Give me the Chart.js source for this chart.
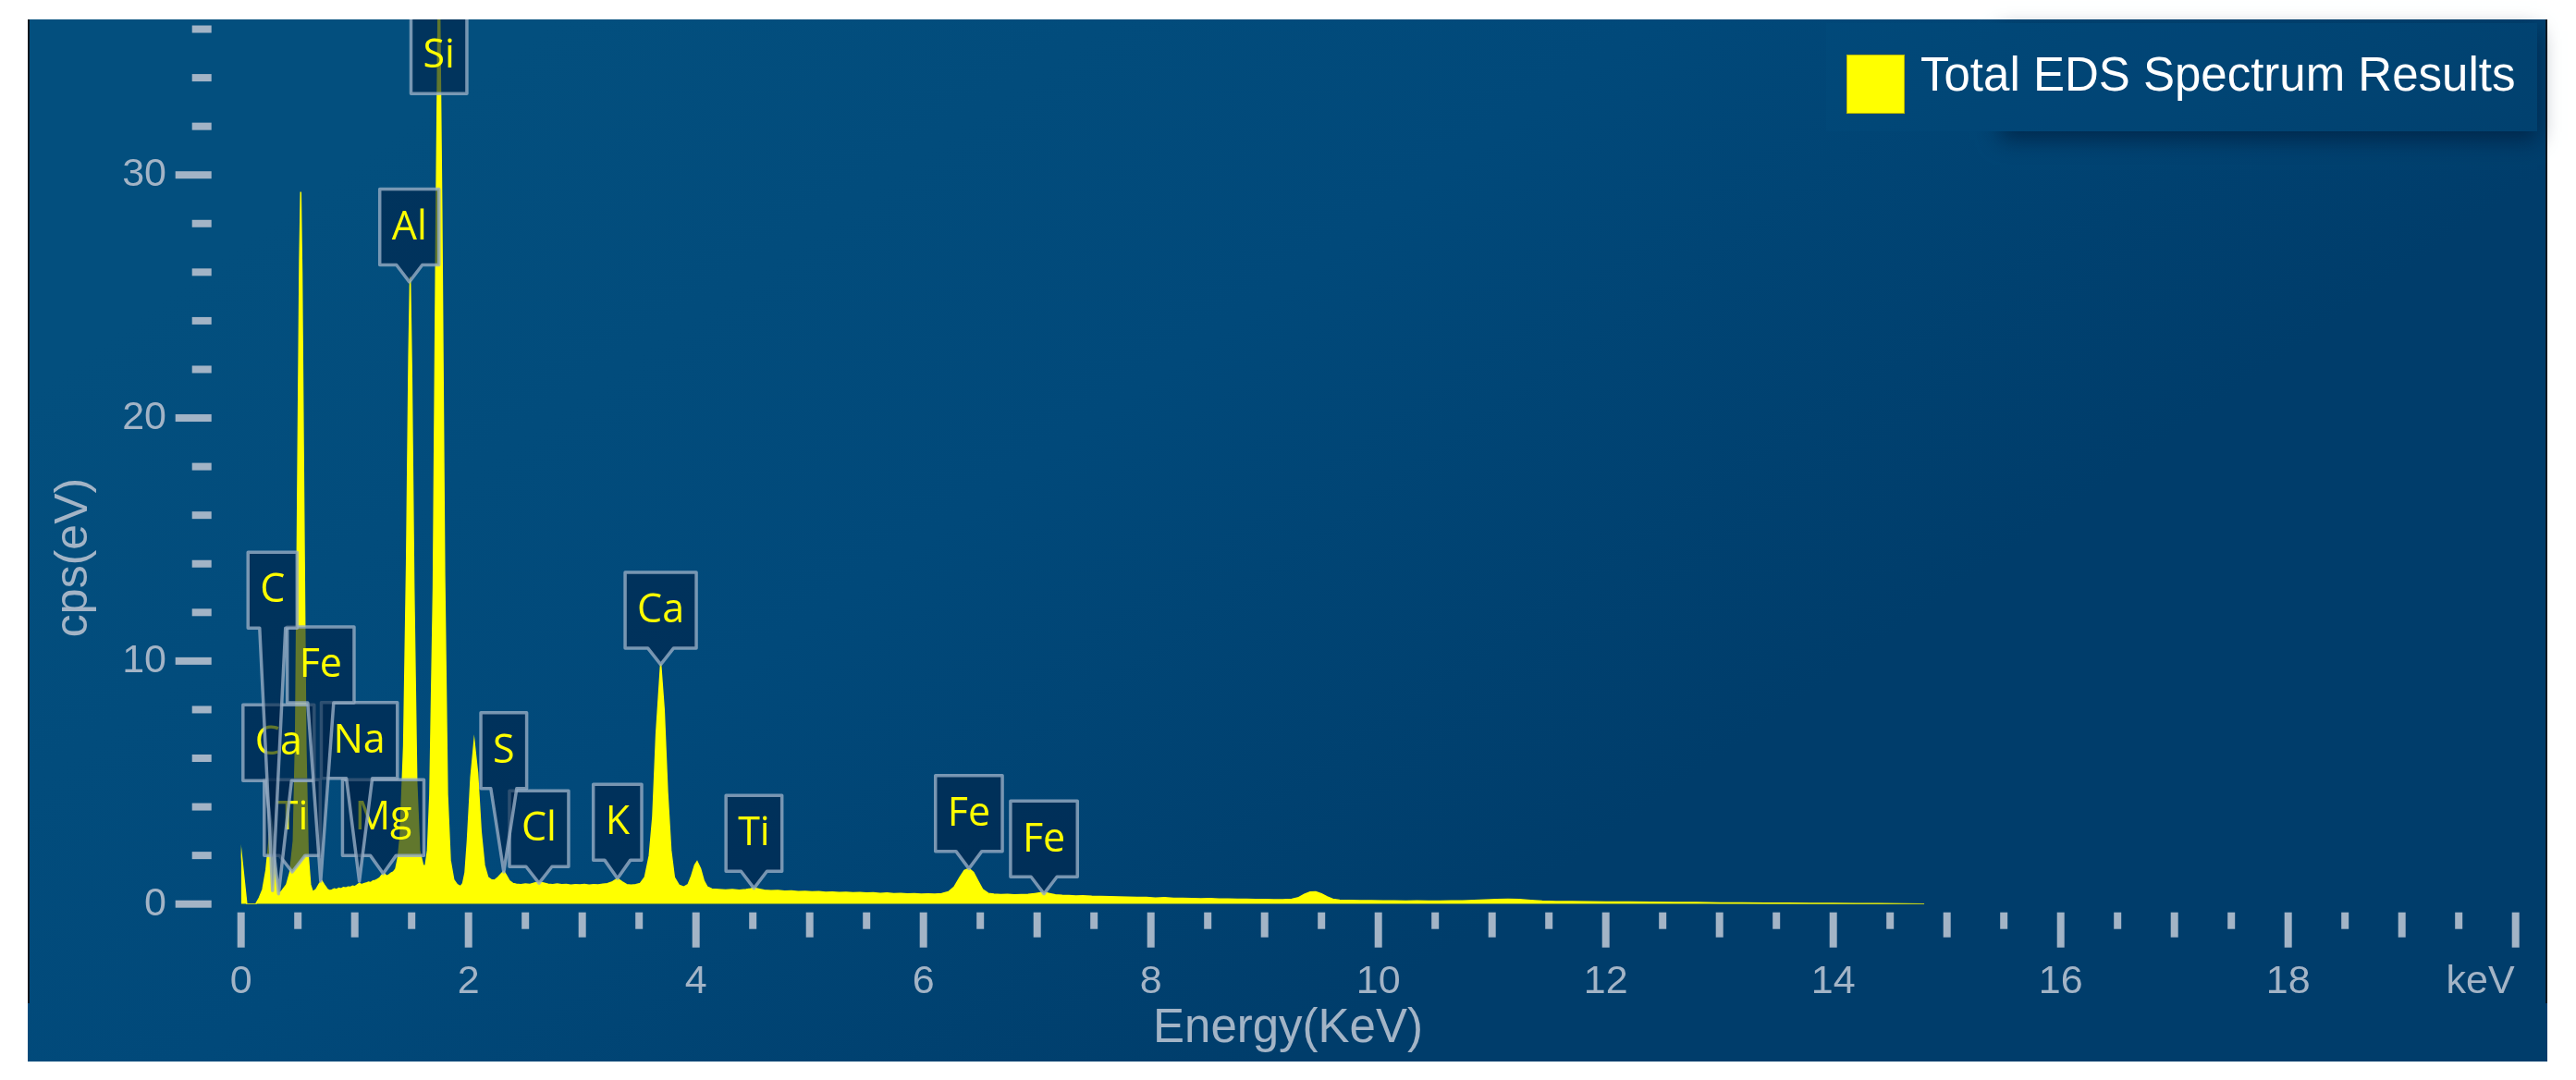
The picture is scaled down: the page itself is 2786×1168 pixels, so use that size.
<!DOCTYPE html>
<html>
<head>
<meta charset="utf-8">
<script src="https://cdn.jsdelivr.net/npm/chart.js@4.4.1/dist/chart.umd.min.js"></script>
<style>
  html, body { margin: 0; padding: 0; background: #ffffff; }
  canvas { display: block; }
</style>
</head>
<body>
<canvas id="edsChart" width="2786" height="1168"></canvas>
<script>
// spectrum: energy (keV) and cps(eV)
const energies = [
  -0.05, 0.00, 0.05, 0.13, 0.16, 0.19, 0.22, 0.25, 0.27, 0.29,
  0.31, 0.335, 0.36, 0.40, 0.43, 0.46, 0.48, 0.50, 0.515, 0.525,
  0.535, 0.55, 0.57, 0.59, 0.61, 0.63, 0.66, 0.69, 0.71, 0.73,
  0.76, 0.78, 0.80, 0.82, 0.84, 0.86, 0.88, 0.90, 0.92, 0.94,
  0.96, 0.98, 1.00, 1.02, 1.04, 1.06, 1.08, 1.10, 1.12, 1.14,
  1.16, 1.18, 1.20, 1.22, 1.24, 1.26, 1.28, 1.30, 1.32, 1.34,
  1.36, 1.38, 1.40, 1.43, 1.455, 1.475, 1.487, 1.50, 1.52, 1.545,
  1.57, 1.60, 1.62, 1.64, 1.66, 1.69, 1.715, 1.74, 1.765, 1.79,
  1.815, 1.84, 1.87, 1.90, 1.93, 1.95, 1.97, 1.99, 2.02, 2.05,
  2.08, 2.11, 2.14, 2.17, 2.20, 2.23, 2.26, 2.29, 2.31, 2.33,
  2.36, 2.39, 2.42, 2.46, 2.50, 2.54, 2.58, 2.62, 2.66, 2.70,
  2.74, 2.78, 2.82, 2.86, 2.90, 2.94, 2.98, 3.02, 3.06, 3.10,
  3.14, 3.18, 3.22, 3.26, 3.31, 3.35, 3.39, 3.43, 3.47, 3.51,
  3.55, 3.59, 3.62, 3.65, 3.69, 3.72, 3.75, 3.78, 3.81, 3.85,
  3.89, 3.93, 3.96, 3.99, 4.01, 4.04, 4.07, 4.10, 4.14, 4.20,
  4.26, 4.32, 4.38, 4.44, 4.48, 4.51, 4.55, 4.60, 4.66, 4.72,
  4.78, 4.84, 4.90, 4.96, 5.02, 5.08, 5.14, 5.20, 5.26, 5.32,
  5.38, 5.44, 5.50, 5.56, 5.62, 5.68, 5.74, 5.80, 5.86, 5.92,
  5.98, 6.04, 6.10, 6.16, 6.22, 6.27, 6.32, 6.36, 6.40, 6.44,
  6.48, 6.52, 6.57, 6.62, 6.68, 6.74, 6.80, 6.86, 6.92, 6.98,
  7.03, 7.07, 7.11, 7.16, 7.22, 7.28, 7.34, 7.40, 7.48, 7.56,
  7.64, 7.72, 7.80, 7.88, 7.96, 8.04, 8.12, 8.20, 8.28, 8.36,
  8.44, 8.52, 8.60, 8.68, 8.76, 8.84, 8.92, 9.00, 9.08, 9.16,
  9.24, 9.30, 9.35, 9.40, 9.45, 9.50, 9.55, 9.60, 9.66, 9.74,
  9.84, 9.94, 10.04, 10.14, 10.24, 10.34, 10.44, 10.54, 10.64, 10.74,
  10.84, 10.94, 11.04, 11.14, 11.24, 11.34, 11.44, 11.56, 11.70, 11.85,
  12.0, 12.2, 12.4, 12.6, 12.8, 13.0, 13.2, 13.4, 13.6, 13.8,
  14.0, 14.2, 14.4, 14.6, 14.8
];
const counts = [
  0, 2.2, 0, 0, 0.25, 0.6, 1.4, 2.8, 3.4, 2.5,
  1.1, 0.42, 0.55, 0.8, 1.3, 2.6, 7.0, 18.5, 26.5, 29.3,
  26.0, 17.5, 6.5, 2.0, 0.8, 0.5, 0.6, 0.85, 0.95, 0.8,
  0.6, 0.55, 0.58, 0.62, 0.6, 0.65, 0.63, 0.68, 0.66, 0.7,
  0.69, 0.74, 0.72, 0.78, 0.85, 0.8, 0.84, 0.86, 0.9, 0.88,
  0.95, 0.97, 1.02, 1.08, 1.2, 1.25, 1.15, 1.2, 1.28, 1.32,
  1.45, 1.9, 2.8, 6.5, 14.0, 22.5, 25.8, 22.0, 13.0, 5.0,
  2.2, 1.6, 1.55, 2.2, 4.5, 13.0, 28.0, 40.0, 28.5, 13.5,
  4.5, 1.8, 1.0, 0.8, 0.72, 0.85, 1.3, 2.6, 5.2, 6.7,
  5.4, 3.0, 1.6, 1.1, 1.0, 0.98, 1.1, 1.25, 1.35, 1.2,
  0.95, 0.85, 0.82, 0.8, 0.83, 0.81, 0.86, 0.9, 0.86, 0.82,
  0.8, 0.83, 0.8, 0.81, 0.78, 0.8, 0.79, 0.81, 0.78, 0.8,
  0.79, 0.82, 0.84, 0.9, 1.05, 0.92, 0.8, 0.78, 0.8, 0.85,
  1.1, 2.0, 3.6, 7.0, 9.9, 8.0, 4.6, 2.2, 1.1, 0.78,
  0.7, 0.8, 1.15, 1.6, 1.75, 1.45, 0.95, 0.7, 0.62, 0.6,
  0.58, 0.6, 0.57, 0.6, 0.63, 0.66, 0.62, 0.57, 0.55, 0.56,
  0.53, 0.54, 0.51, 0.52, 0.5, 0.51, 0.48, 0.49, 0.47, 0.48,
  0.46, 0.47, 0.45, 0.46, 0.44, 0.45, 0.43, 0.44, 0.42, 0.43,
  0.41, 0.42, 0.41, 0.43, 0.5, 0.7, 1.1, 1.38, 1.46, 1.3,
  0.95, 0.6, 0.44, 0.41, 0.39, 0.4, 0.38, 0.39, 0.4, 0.43,
  0.46, 0.47, 0.43, 0.38, 0.36, 0.35, 0.33, 0.34, 0.32, 0.31,
  0.3, 0.29, 0.28, 0.27, 0.27, 0.25, 0.26, 0.24, 0.24, 0.23,
  0.22, 0.23, 0.21, 0.21, 0.2, 0.2, 0.19, 0.19, 0.18, 0.18,
  0.2, 0.27, 0.4, 0.49, 0.5, 0.42, 0.3, 0.2, 0.16, 0.15,
  0.14, 0.14, 0.13, 0.13, 0.12, 0.13, 0.12, 0.12, 0.13, 0.13,
  0.15, 0.17, 0.19, 0.2, 0.19, 0.15, 0.12, 0.1, 0.1, 0.09,
  0.08, 0.08, 0.07, 0.06, 0.06, 0.05, 0.05, 0.04, 0.04, 0.03,
  0.03, 0.02, 0.02, 0.01, 0
];

// element tags: name, energy (keV), value where the pointer lands (cps)
const tagNames = ['Ti', 'Mg', 'Fe', 'Cl', 'K', 'Ti', 'Fe', 'S', 'Ca', 'Na', 'Fe', 'Ca', 'C', 'Al', 'Si'];
const tagEnergies = [0.45, 1.25, 7.06, 2.62, 3.31, 4.51, 6.40, 2.31, 0.33, 1.04, 0.70, 3.69, 0.277, 1.48, 1.74];
const tagTips = [1.32, 1.25, 0.42, 0.86, 1.05, 0.65, 1.46, 1.32, 0.42, 0.94, 0.94, 9.86, 0.55, 25.6, 40];
// layout only: where each tag box sits (bottom edge, in cps)
const tagBoxBottoms = [2.0, 2.0, 1.12, 1.54, 1.81, 1.35, 2.17, 4.75, 5.08, 5.17, 8.28, 10.53, 11.36, 26.3, 33.35];

const xTickValues = [0, 2, 4, 6, 8, 10, 12, 14, 16, 18, 20];
const xTickLabels = ['0', '2', '4', '6', '8', '10', '12', '14', '16', '18', 'keV'];
const yTickValues = [0, 10, 20, 30];
const yTickLabels = ['0', '10', '20', '30'];

const seriesName = 'Total EDS Spectrum Results';
const axisGrey = '#a3b4c6';
const tickFont = { family: '"Liberation Sans", Arial, sans-serif', size: 43 };

function panelFill(ctx) {
  const g = ctx.createLinearGradient(600, 21, 1400, 1148);
  g.addColorStop(0, '#034f7e');
  g.addColorStop(0.5, '#01497a');
  g.addColorStop(1, '#003d6b');
  return g;
}

const panelPlugin = {
  id: 'panel',
  beforeDraw(chart) {
    const ctx = chart.ctx;
    ctx.save();
    ctx.fillStyle = panelFill(ctx);
    ctx.fillRect(30, 21, 2725, 1127);
    ctx.fillStyle = '#101820';
    ctx.fillRect(30, 21, 2, 1064);
    ctx.fillRect(2753, 21, 2, 1064);

    // legend backdrop: only its shadow shows below the right part
    ctx.save();
    ctx.shadowColor = 'rgba(0, 22, 50, 0.6)';
    ctx.shadowBlur = 22;
    ctx.shadowOffsetY = 9;
    ctx.fillStyle = '#024c7b';
    ctx.fillRect(2163, 25, 581, 117);
    ctx.restore();
    ctx.fillStyle = panelFill(ctx);
    ctx.fillRect(1975, 25, 769, 117);
    ctx.fillStyle = 'rgba(10, 90, 140, 0.12)';
    ctx.fillRect(1975, 25, 769, 117);
    ctx.restore();
  }
};

function drawTag(ctx, name, cx, bottom, tipX, tipY) {
  ctx.font = '43px "Open Sans", "Noto Sans", sans-serif';
  const w = ctx.measureText(name).width + 26;
  const h = 82;
  const left = cx - w / 2, right = cx + w / 2, top = bottom - h;
  ctx.beginPath();
  ctx.moveTo(left, top);
  ctx.lineTo(right, top);
  ctx.lineTo(right, bottom);
  if (tipY > bottom + 2) {
    ctx.lineTo(cx + 14, bottom);
    ctx.lineTo(tipX, tipY);
    ctx.lineTo(cx - 14, bottom);
  }
  ctx.lineTo(left, bottom);
  ctx.closePath();
  ctx.fillStyle = 'rgba(0, 36, 72, 0.62)';
  ctx.fill();
  ctx.lineWidth = 3.5;
  ctx.lineJoin = 'round';
  ctx.strokeStyle = 'rgba(150, 172, 196, 0.8)';
  ctx.stroke();
  ctx.fillStyle = '#ffff00';
  ctx.textAlign = 'center';
  ctx.textBaseline = 'middle';
  ctx.fillText(name, cx, top + h / 2 + 1);
}

const marksPlugin = {
  id: 'marks',
  afterDatasetsDraw(chart) {
    const ctx = chart.ctx;
    const xs = chart.scales.x, ys = chart.scales.y;
    const area = chart.chartArea;

    // element tags, clipped to the plot top
    ctx.save();
    ctx.beginPath();
    ctx.rect(30, area.top, 2725, area.bottom - area.top);
    ctx.clip();
    tagNames.forEach((name, i) => {
      const cx = xs.getPixelForValue(tagEnergies[i]);
      drawTag(ctx, name, cx, ys.getPixelForValue(tagBoxBottoms[i]), cx, ys.getPixelForValue(tagTips[i]));
    });
    ctx.restore();
  },
  afterDraw(chart) {
    const ctx = chart.ctx;
    const xs = chart.scales.x, ys = chart.scales.y;
    const area = chart.chartArea;
    ctx.save();
    ctx.fillStyle = axisGrey;

    // x tick marks: long every 2 keV, medium every 1, short every 0.5
    for (let k = 0; k <= 40; k++) {
      const px = xs.getPixelForValue(k * 0.5);
      const len = k % 4 === 0 ? 38 : (k % 2 === 0 ? 27 : 18);
      ctx.fillRect(px - 4, area.bottom + 9, 8, len);
    }
    // y tick marks: long every 10, short every 2
    for (let v = 0; v <= 36; v += 2) {
      const py = ys.getPixelForValue(v);
      const len = v % 10 === 0 ? 39 : 21;
      ctx.fillRect(area.left - 32 - len, py - 4, len, 8);
    }

    // unit label at the last x tick sits flush left of it
    const last = xTickValues.length - 1;
    ctx.font = tickFont.size + 'px ' + tickFont.family;
    ctx.textAlign = 'right';
    ctx.textBaseline = 'middle';
    ctx.fillText(xTickLabels[last], xs.getPixelForValue(xTickValues[last]) - 1, 1062);

    // axis titles
    ctx.textAlign = 'center';
    ctx.font = '51px "Liberation Sans", Arial, sans-serif';
    ctx.fillText('Energy(KeV)', 1393, 1113);
    ctx.save();
    ctx.translate(80, 603);
    ctx.rotate(-Math.PI / 2);
    ctx.font = '50px "Liberation Sans", Arial, sans-serif';
    ctx.fillText('cps(eV)', 0, 0);
    ctx.restore();

    // legend
    ctx.fillStyle = '#ffff00';
    ctx.fillRect(1997, 59, 63, 64);
    ctx.strokeStyle = '#b8b800';
    ctx.lineWidth = 1;
    ctx.strokeRect(1997.5, 59.5, 62, 63);
    ctx.fillStyle = '#ffffff';
    ctx.textAlign = 'left';
    ctx.font = '51px "Liberation Sans", Arial, sans-serif';
    ctx.fillText(chart.data.datasets[0].label, 2077, 84);
    ctx.restore();
  }
};

function noScalePadding(scale) {
  scale.paddingTop = 0;
  scale.paddingBottom = 0;
  scale.paddingLeft = 0;
  scale.paddingRight = 0;
}

new Chart(document.getElementById('edsChart'), {
  type: 'line',
  data: {
    datasets: [{
      label: seriesName,
      data: energies.map((e, i) => ({ x: e, y: counts[i] })),
      borderColor: '#ffff00',
      backgroundColor: '#ffff00',
      borderWidth: 1.5,
      pointRadius: 0,
      tension: 0,
      fill: 'origin'
    }]
  },
  options: {
    responsive: false,
    animation: false,
    devicePixelRatio: 1,
    layout: { padding: { left: 30, right: 65.3, top: 21, bottom: 0 } },
    plugins: { legend: { display: false }, tooltip: { enabled: false } },
    scales: {
      x: {
        type: 'linear',
        min: 0,
        max: 20,
        afterFit(scale) { scale.height = 190.3; noScalePadding(scale); },
        afterBuildTicks(scale) { scale.ticks = xTickValues.map(v => ({ value: v })); },
        grid: { display: false, drawTicks: false },
        border: { display: false },
        ticks: {
          autoSkip: false,
          maxRotation: 0,
          padding: 58.5,
          color: axisGrey,
          font: tickFont,
          // the last label (unit) is drawn by the marks plugin
          callback: (v) => {
            const i = xTickValues.indexOf(v);
            return i === xTickValues.length - 1 ? '' : xTickLabels[i];
          }
        }
      },
      y: {
        type: 'linear',
        min: 0,
        max: 36.4,
        afterFit(scale) { scale.width = 230.7; noScalePadding(scale); },
        afterBuildTicks(scale) { scale.ticks = yTickValues.map(v => ({ value: v })); },
        grid: { display: false, drawTicks: false },
        border: { display: false },
        ticks: {
          padding: 80.7,
          color: axisGrey,
          font: tickFont,
          callback: (v) => yTickLabels[yTickValues.indexOf(v)]
        }
      }
    }
  },
  plugins: [panelPlugin, marksPlugin]
});
</script>
</body>
</html>
